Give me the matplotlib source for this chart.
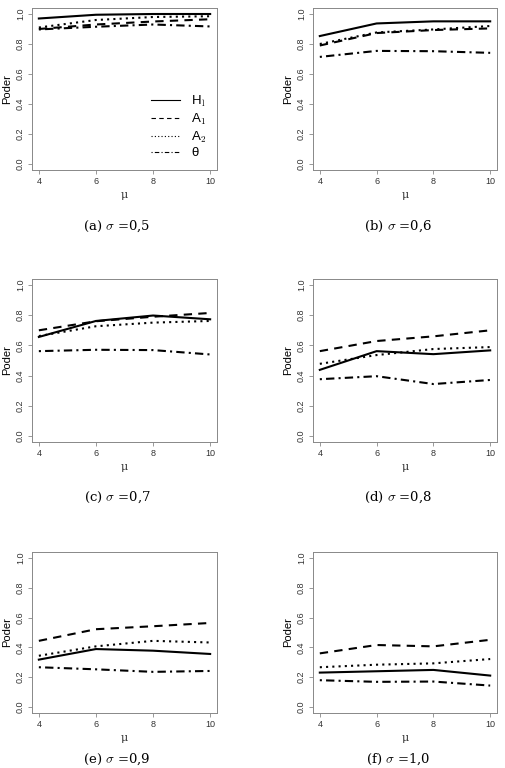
import numpy as np
import matplotlib
matplotlib.use("Agg")
import matplotlib.pyplot as plt

plt.rcParams['font.family'] = ['Liberation Sans', 'DejaVu Sans']
plt.rcParams['mathtext.fontset'] = 'cm'

# data
mu = [4, 6, 8, 10]
panels = ["(a)", "(b)", "(c)", "(d)", "(e)", "(f)"]
sigmas = ["0,5", "0,6", "0,7", "0,8", "0,9", "1,0"]

H1 = [[0.97, 0.995, 1.0, 1.0],
      [0.853, 0.937, 0.951, 0.951],
      [0.656, 0.762, 0.798, 0.773],
      [0.438, 0.562, 0.542, 0.567],
      [0.318, 0.389, 0.378, 0.356],
      [0.231, 0.240, 0.249, 0.211]]
A1 = [[0.90, 0.93, 0.95, 0.965],
      [0.79, 0.873, 0.893, 0.904],
      [0.70, 0.76, 0.79, 0.815],
      [0.562, 0.629, 0.66, 0.70],
      [0.444, 0.522, 0.542, 0.564],
      [0.36, 0.416, 0.407, 0.451]]
A2 = [[0.91, 0.96, 0.98, 0.985],
      [0.80, 0.877, 0.897, 0.92],
      [0.662, 0.727, 0.751, 0.762],
      [0.478, 0.536, 0.576, 0.589],
      [0.344, 0.407, 0.444, 0.433],
      [0.267, 0.284, 0.293, 0.322]]
theta = [[0.897, 0.915, 0.93, 0.917],
         [0.714, 0.754, 0.752, 0.741],
         [0.562, 0.571, 0.569, 0.54],
         [0.376, 0.396, 0.344, 0.371],
         [0.267, 0.253, 0.236, 0.242],
         [0.18, 0.169, 0.171, 0.144]]

dashes = [None, (4, 3), (1, 2), (1, 2, 4, 2)]
labels = [r"H$_\mathrm{l}$", r"A$_1$", r"A$_2$", "θ"]

W, H = 505, 768
fig = plt.figure(figsize=(W / 100, H / 100), dpi=100)

lefts = [32, 313]
widths = [185, 184]
rows = [(8, 170), (279, 442), (552, 713)]
caption_y = [226, 497, 759]
caption_x = [117, 398]
gray = "#888888"
txt = "#333333"

for i in range(6):
    r, c = divmod(i, 2)
    top, bot = rows[r]
    ax = fig.add_axes([lefts[c] / W, 1 - bot / H, widths[c] / W, (bot - top) / H])
    series = [H1[i], A1[i], A2[i], theta[i]]
    for s, d, lab in zip(series, dashes, labels):
        ln, = ax.plot(mu, s, color="black", lw=1.5, label=lab)
        if d is not None:
            ln.set_dashes(d)
    ax.set_xlim(3.76, 10.24)
    ax.set_ylim(-0.04, 1.04)
    ax.set_xticks([4, 6, 8, 10])
    ax.set_yticks([0.0, 0.2, 0.4, 0.6, 0.8, 1.0])
    ax.set_yticklabels(["0.0", "0.2", "0.4", "0.6", "0.8", "1.0"], rotation=90, va="center")
    ax.tick_params(length=3, width=0.6, color=gray, labelsize=6.5, labelcolor=txt, pad=2)
    for sp in ax.spines.values():
        sp.set_color(gray)
        sp.set_linewidth(0.7)
    ax.set_ylabel("Poder", fontsize=8, color="black", labelpad=3)
    ax.set_xlabel("μ", fontsize=8, color=txt, family="DejaVu Serif", labelpad=3)
    fig.text(caption_x[c] / W, 1 - caption_y[r] / H,
             panels[i] + r" $\sigma$ =" + sigmas[i],
             ha="center", va="center", fontsize=9.5, family="DejaVu Serif")
    if i == 0:
        leg = ax.legend(loc="lower right", frameon=False, fontsize=9.5,
                        handlelength=2.2, handletextpad=0.8,
                        labelspacing=0.2, borderaxespad=0.4)
        for h in leg.get_lines():
            h.set_linewidth(0.8)

fig.savefig("out.png", dpi=100)
